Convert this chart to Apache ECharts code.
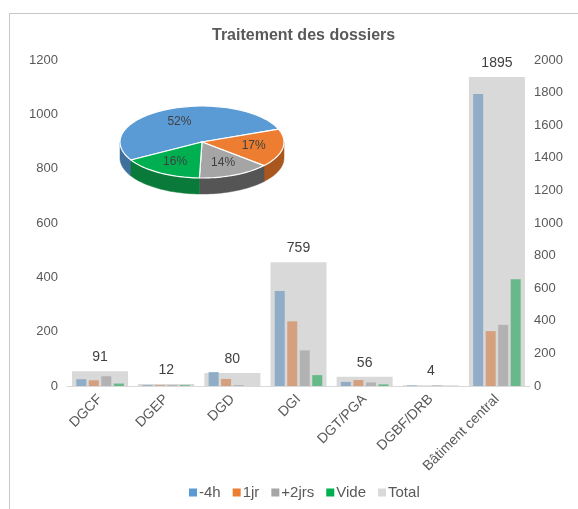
<!DOCTYPE html>
<html>
<head>
<meta charset="utf-8">
<script src="https://cdn.jsdelivr.net/npm/echarts@6/dist/echarts.min.js"></script>
<style>
  html, body { margin: 0; padding: 0; background: #fff; }
  #chart { width: 578px; height: 509px; }
  .frame { position: absolute; left: 9px; top: 13px; width: 600px; height: 600px; border: 1px solid #c8c8c8; pointer-events: none; }
</style>
</head>
<body>
<div id="chart"></div>
<div class="frame"></div>
<script>
// données
const categories = ['DGCF', 'DGEP', 'DGD', 'DGI', 'DGT/PGA', 'DGBF/DRB', 'Bâtiment central'];
const moins4h = [25, 3, 51, 350, 15, 2, 1075];
const unJour = [21, 3, 26, 238, 22, 0, 202];
const deuxJours = [36, 3, 3, 131, 13, 2, 225];
const vide = [9, 3, 0, 40, 6, 0, 393];
const total = [91, 12, 80, 759, 56, 4, 1895];
const pieNames = ['-4h', '1jr', '+2jrs', 'Vide'];
const pieShares = [52, 17, 14, 16];

const txt = '#595959';
const font = 'Liberation Sans';

// camembert "3D" dessiné à la main (ellipse + tranche)
const pie = { cx: 202, cy: 142, rx: 82, ry: 36, depth: 16, start: 240, labelR: 0.64 };
const pieTop = ['#5B9BD5', '#ED7D31', '#A5A5A5', '#00B050'];
const pieSide = ['#3f6f9b', '#a9561f', '#555555', '#0a7a3a'];

function piePoint(deg, dy) {
  const r = deg * Math.PI / 180;
  return [pie.cx + pie.rx * Math.sin(r), pie.cy - pie.ry * Math.cos(r) + (dy || 0)];
}

function renderPie(params, api) {
  const i = params.dataIndex;
  const sum = pieShares.reduce((a, b) => a + b, 0);
  let a0 = pie.start;
  for (let j = 0; j < i; j++) a0 += pieShares[j] / sum * 360;
  const a1 = a0 + api.value(0) / sum * 360;
  const children = [];
  // face avant
  [-360, 0, 360].forEach(k => {
    const lo = Math.max(a0, 90 + k), hi = Math.min(a1, 270 + k);
    if (hi > lo) {
      const pts = [];
      for (let a = lo; a < hi; a += 2) pts.push(piePoint(a));
      pts.push(piePoint(hi));
      for (let a = hi; a > lo; a -= 2) pts.push(piePoint(a, pie.depth));
      pts.push(piePoint(lo, pie.depth));
      children.push({ type: 'polygon', shape: { points: pts }, style: { fill: pieSide[i], stroke: pieSide[i], lineWidth: 0.5 } });
    }
  });
  // dessus
  const top = [[pie.cx, pie.cy]];
  for (let a = a0; a < a1; a += 2) top.push(piePoint(a));
  top.push(piePoint(a1));
  children.push({ type: 'polygon', shape: { points: top }, style: { fill: pieTop[i], stroke: '#fff', lineWidth: 1.2 } });
  const mid = (a0 + a1) / 2 * Math.PI / 180;
  children.push({
    type: 'text',
    style: {
      text: api.value(0) + '%',
      x: pie.cx + pie.rx * pie.labelR * Math.sin(mid),
      y: pie.cy - pie.ry * pie.labelR * Math.cos(mid),
      align: 'center', verticalAlign: 'middle',
      fill: '#404040', font: '12px ' + font
    }
  });
  return { type: 'group', children: children };
}

const chart = echarts.init(document.getElementById('chart'));

function smallBar(name, data, color) {
  return {
    name: name, type: 'bar', xAxisIndex: 0, yAxisIndex: 0, data: data,
    barWidth: 10, barGap: '25%', z: 3,
    itemStyle: { color: color }
  };
}

const option = {
  animation: false,
  textStyle: { fontFamily: font },
  title: {
    text: 'Traitement des dossiers', left: 207, top: 23,
    textStyle: { fontSize: 16, fontWeight: 'bold', color: txt, fontFamily: font }
  },
  legend: {
    bottom: 4, left: 184, icon: 'rect', itemWidth: 8, itemHeight: 8, itemGap: 12,
    textStyle: { fontSize: 15, color: txt, padding: [0, 0, 0, -3] },
    data: [
      { name: '-4h', itemStyle: { color: '#5B9BD5' } },
      { name: '1jr', itemStyle: { color: '#ED7D31' } },
      { name: '+2jrs', itemStyle: { color: '#A5A5A5' } },
      { name: 'Vide', itemStyle: { color: '#00B050' } },
      { name: 'Total', itemStyle: { color: '#D9D9D9' } }
    ]
  },
  grid: { left: 67, right: 48, top: 60, bottom: 123 },
  xAxis: [
    {
      type: 'category', data: categories,
      axisLine: { lineStyle: { color: '#d9d9d9' } },
      axisTick: { show: false },
      axisLabel: { interval: 0, rotate: 45, margin: 11, fontSize: 14, color: txt }
    },
    { type: 'category', data: categories, show: false }
  ],
  yAxis: [
    {
      type: 'value', min: 0, max: 1200, interval: 200,
      splitLine: { show: false }, axisLine: { show: false },
      axisLabel: { fontSize: 13, color: txt, margin: 9, formatter: v => String(v) }
    },
    {
      type: 'value', min: 0, max: 2000, interval: 200, position: 'right',
      splitLine: { show: false }, axisLine: { show: false },
      axisLabel: { fontSize: 13, color: txt, margin: 4, formatter: v => String(v) }
    }
  ],
  series: [
    {
      name: 'Total', type: 'bar', xAxisIndex: 1, yAxisIndex: 1, data: total,
      barWidth: 56, z: 1,
      itemStyle: { color: '#D9D9D9' },
      label: { show: true, position: 'top', distance: 7, fontSize: 14, color: '#404040' }
    },
    smallBar('-4h', moins4h, '#90adc8'),
    smallBar('1jr', unJour, '#d4a07d'),
    smallBar('+2jrs', deuxJours, '#b2b2b2'),
    smallBar('Vide', vide, '#67b98a'),
    {
      name: 'Répartition', type: 'custom', coordinateSystem: 'none',
      data: pieShares.map((v, i) => ({ name: pieNames[i], value: v })),
      renderItem: renderPie, z: 10, silent: true
    }
  ]
};
chart.setOption(option);
</script>
</body>
</html>
